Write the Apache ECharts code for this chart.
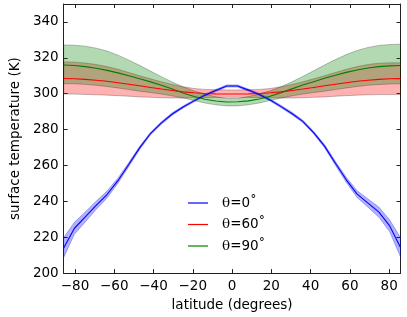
<!DOCTYPE html>
<html><head><meta charset="utf-8">
<script src="https://cdn.jsdelivr.net/npm/echarts@6/dist/echarts.min.js"></script>
<style>html,body{margin:0;padding:0;background:#fff}#c{width:407px;height:317px}</style>
</head><body><div id="c"></div>
<script>
// latitudes (degrees)
const lat = [-85.76,-80.27,-74.76,-69.22,-63.68,-58.14,-52.61,-47.07,-41.53,-35.99,-30.46,-24.92,-19.38,-13.84,-8.31,-2.77,
             2.77,8.31,13.84,19.38,24.92,30.46,35.99,41.53,47.07,52.61,58.14,63.68,69.22,74.76,80.27,85.76];
// theta = 0
const blueMean = [214,225,231.3,237.8,243.8,251.5,260.5,269.8,277.8,283.7,288.7,292.6,296,299.2,301.8,304.3,
                  304.3,302,299.6,296.5,292.8,289,284.6,278.3,270.8,261.2,252,244,239,234,226.3,214.3];
const blueLow  = [208.7,221.7,228.5,235.5,241.9,250.1,259.4,268.9,277.1,283,288,292,295.4,298.6,301.2,303.7,
                  303.7,301.4,299,295.9,292.1,288.3,283.9,277.6,269.9,260.1,250.6,242.1,236.7,231.2,223,209];
const blueHigh = [219.8,228.3,234.1,240.1,245.7,252.9,261.6,270.7,278.5,284.4,289.4,293.2,296.6,299.8,302.4,304.9,
                  304.9,302.6,300.2,297.1,293.5,289.7,285.3,279,271.7,262.3,253.4,245.9,241.3,236.8,229.6,219.8];
// theta = 60
const redMean = [308.5,308.3,308,307.5,306.9,306.1,305.3,304.4,303.5,302.6,301.8,301,300.5,300.1,299.9,299.8,
                 299.8,299.9,300.1,300.5,301,301.8,302.6,303.5,304.4,305.3,306.1,306.9,307.5,308,308.3,308.4];
const redLow  = [299.8,299.8,299.6,299.4,299.2,298.9,298.6,298.2,298,297.7,297.6,297.6,297.7,297.8,297.9,298,
                 298,297.9,297.8,297.7,297.6,297.6,297.7,298,298.2,298.6,298.9,299.2,299.4,299.5,299.5,299.5];
const redHigh = [317.8,317.6,317.1,316.3,315.1,313.6,311.8,310,308.3,306.6,305.1,303.9,302.9,302.4,302.2,302.1,
                 302.1,302.2,302.4,302.9,303.9,305.1,306.6,308.3,310,311.8,313.6,315.1,316.3,317,317.2,317.2];
// theta = 90
const greenMean = [316,315.7,315.1,314.2,313,311.6,310,308.3,306.6,304.7,302.6,300.4,298.4,296.9,295.9,295.4,
                   295.5,296,297,298.6,300.6,302.7,304.8,306.7,308.6,310.3,311.9,313.2,314.3,315.1,315.5,315.7];
const greenLow  = [305.6,305.5,305.2,304.7,304,303.2,302.3,301.4,300.6,299.8,298.8,297.6,296.2,294.8,293.8,293.2,
                   293.2,293.8,294.8,296.2,297.6,298.8,299.8,300.6,301.4,302.3,303.2,304,304.7,305.1,305.4,305.5];
const greenHigh = [327.2,327,326.5,325.4,323.8,321.5,318.7,315.8,312.6,309.5,306.5,303.8,301.5,299.7,298.3,297.3,
                   297.3,298.4,299.8,301.6,303.9,306.6,309.6,312.8,316,319,321.8,324.1,325.8,326.9,327.4,327.6];
const names = ['θ=0˚','θ=60˚','θ=90˚'];
const xTicks = [-80,-60,-40,-20,0,20,40,60,80];
const yTicks = [200,220,240,260,280,300,320,340];

const FONT = 'DejaVu Sans';
function band(low, high, fill, edge) {
  return {
    type:'custom', silent:true, z:2, clip:true,
    data: lat.map((x,i)=>[x, low[i], high[i]]),
    encode:{x:0, y:[1,2]},
    renderItem: function(params, api) {
      if (params.dataIndex !== 0) return null;
      const pts = [];
      for (let i = 0; i < lat.length; i++) pts.push(api.coord([lat[i], high[i]]));
      for (let i = lat.length - 1; i >= 0; i--) pts.push(api.coord([lat[i], low[i]]));
      return {type:'polygon', shape:{points:pts}, style:{fill:fill, stroke:edge, lineWidth:0.8}};
    }
  };
}
function meanLine(name, vals, color, z) {
  return {type:'line', name:name, data: lat.map((x,i)=>[x, vals[i]]), symbol:'none',
          itemStyle:{color:color}, lineStyle:{color:color, width:1.1}, z:z};
}
const series = [
  band(blueLow, blueHigh, 'rgba(0,0,255,0.3)', 'rgba(0,0,200,0.35)'),
  band(redLow, redHigh, 'rgba(255,0,0,0.3)', 'rgba(0,0,0,0.3)'),
  band(greenLow, greenHigh, 'rgba(0,128,0,0.3)', 'rgba(0,0,0,0.3)'),
  meanLine(names[2], greenMean, '#008000', 5),
  meanLine(names[1], redMean, '#ff0000', 6),
  meanLine(names[0], blueMean, '#0000ff', 7)
];
const axisLine = {show:true, onZero:false, lineStyle:{color:'#222', width:1}};
const tick = (vals)=>({show:true, inside:true, length:4, lineStyle:{color:'#222'}, customValues:vals});
const legends = [0,1,2].map(i => ({
  data:[names[i]], left:188, top:196 + i*21.5, padding:0, itemWidth:20, itemHeight:1.2, icon:'rect',
  formatter: n => '{t|' + n.charAt(0) + '}{n|' + n.slice(1) + '}',
  textStyle:{padding:[0,0,0,9], rich:{t:{fontFamily:'DejaVu Serif', fontSize:13.5, color:'#000'},
                                       n:{fontFamily:FONT, fontSize:13.5, color:'#000'}}}
}));
const chart = echarts.init(document.getElementById('c'), null, {renderer:'canvas'});
chart.setOption({
  animation:false,
  backgroundColor:'#fff',
  grid:{left:54, right:6.5, top:4, bottom:43, containLabel:false},
  legend: legends,
  xAxis:[
    {type:'value', min:-85.76, max:85.76, position:'bottom', axisLine:axisLine, axisTick:tick(xTicks),
     splitLine:{show:false},
     axisLabel:{customValues:xTicks, color:'#000', fontFamily:FONT, fontSize:13.5, margin:6,
                formatter: v => (v < 0 ? '\u2212' + (-v) : '' + v)},
     name:'latitude (degrees)', nameLocation:'middle', nameGap:22,
     nameTextStyle:{color:'#000', fontFamily:FONT, fontSize:13.5}},
    {type:'value', min:-85.76, max:85.76, position:'top', axisLine:axisLine, axisTick:tick(xTicks),
     splitLine:{show:false}, axisLabel:{show:false}}
  ],
  yAxis:[
    {type:'value', min:200, max:350, position:'left', axisLine:axisLine, axisTick:tick(yTicks),
     splitLine:{show:false},
     axisLabel:{customValues:yTicks, color:'#000', fontFamily:FONT, fontSize:13.5, margin:5},
     name:'surface temperature (K)', nameLocation:'middle', nameGap:35,
     nameTextStyle:{color:'#000', fontFamily:FONT, fontSize:13.5}},
    {type:'value', min:200, max:350, position:'right', axisLine:axisLine, axisTick:tick(yTicks),
     splitLine:{show:false}, axisLabel:{show:false}}
  ],
  series: series
});
</script>
</body></html>
